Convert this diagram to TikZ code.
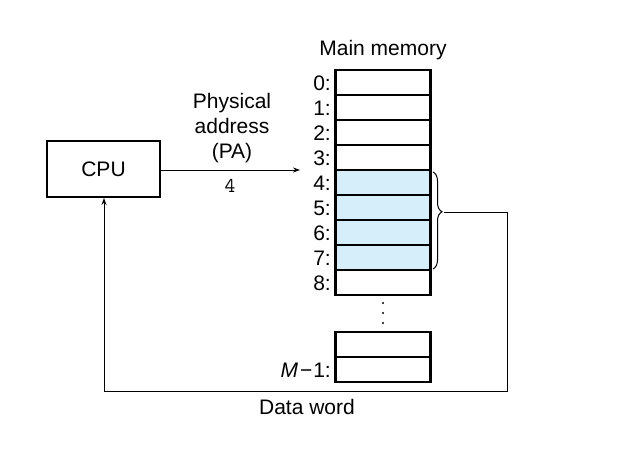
\documentclass[tikz,border=0pt]{standalone}
\usepackage{fontspec}
\setmainfont{Liberation Sans}
\usetikzlibrary{arrows.meta,decorations.pathreplacing}
\definecolor{cellblue}{RGB}{214,238,250}
\begin{document}
\begin{tikzpicture}[x=1pt,y=-1pt,
  every node/.style={font=\fontsize{21}{25}\selectfont, inner sep=0pt},
  box/.style={draw, line width=2pt, minimum width=113pt, minimum height=56pt},
  cell/.style={draw, line width=2.4pt, minimum width=95pt, minimum height=25pt, fill=white},
  hcell/.style={cell, fill=cellblue},
  addr/.style={anchor=east},
  conn/.style={line width=1pt},
  tip/.style={-{Stealth[length=7pt,width=5pt]}}
]
\useasboundingbox (0,0) rectangle (634,453);
\node[box] (cpu) at (103.5,169) {CPU};
\foreach \i/\s in {0/cell,1/cell,2/cell,3/cell,4/hcell,5/hcell,6/hcell,7/hcell,8/cell}{
  \node[\s] (m\i) at (383,{82.5+25*\i}) {};
  \node[addr] (l\i) at (331,{83+25*\i}) {\i:};
}
\node[cell] (mp) at (383,344.5) {};
\node[cell] (ml) at (383,369.5) {};
\node[addr] (lm) at (331,370) {\textit{M}\kern2pt−\kern1pt1:};
\node (title) at (383,50) {Main memory};
\node[align=center] (pa) at (232,128) {Physical\\address\\(PA)};
\node (four) at (230,186) {\ttfamily 4};
\node (dw) at (307,407) {Data word};
\node[circle,fill,minimum size=2.4pt] (d1) at (383,303) {};
\node[circle,fill,minimum size=2.4pt] (d2) at (383,313) {};
\node[circle,fill,minimum size=2.4pt] (d3) at (383,323) {};
\coordinate (paend) at (300,170);
\draw[conn,tip] (cpu.east |- paend) -- (paend);
\coordinate (bt) at (433,172);
\coordinate (bb) at (433,269);
\draw[conn,decorate,decoration={brace,amplitude=9pt,aspect=0.41}] (bt) -- (bb);
\coordinate (btip) at (444,212);
\coordinate (rc) at (507,391);
\coordinate (lc) at (104,391);
\draw[conn,tip] (btip) -| (rc) -- (lc) -- (cpu.south -| lc);
\end{tikzpicture}
\end{document}
